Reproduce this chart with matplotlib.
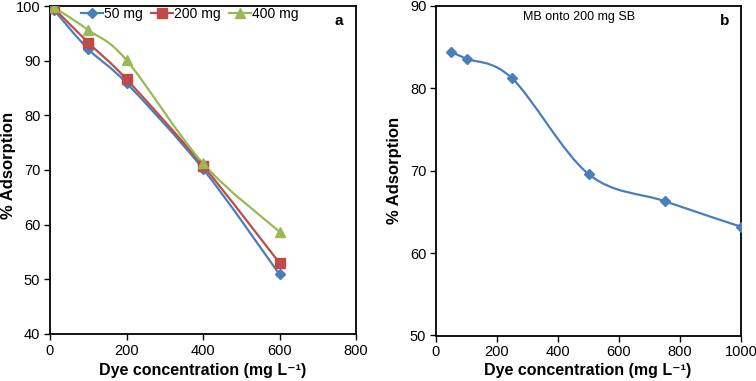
import matplotlib
matplotlib.use("Agg")
import matplotlib.pyplot as plt
from matplotlib.path import Path
from matplotlib.patches import PathPatch
import numpy as np

plt.rcParams['font.family'] = ['Liberation Sans', 'DejaVu Sans']

# Panel a data
conc_a = [10, 100, 200, 400, 600]
ads_50 = [99.3, 92.1, 85.9, 70.2, 50.9]
ads_200 = [99.6, 93.3, 86.6, 70.8, 53.0]
ads_400 = [99.8, 95.6, 90.1, 71.2, 58.7]
labels_a = ["50 mg", "200 mg", "400 mg"]

# Panel b data
conc_b = [50, 100, 250, 500, 750, 1000]
ads_b = [84.4, 83.6, 81.2, 69.6, 66.3, 63.2]

blue = '#4A7EBB'
red = '#BE4B48'
green = '#98B954'


def smooth_path(ax, x, y, color, lw=1.6):
    """Excel-style smoothed line using cubic Bezier segments through data points."""
    pts = np.column_stack([x, y]).astype(float)
    n = len(pts)
    verts = [tuple(pts[0])]
    codes = [Path.MOVETO]
    for i in range(n - 1):
        p0 = pts[i - 1] if i > 0 else pts[i]
        p1 = pts[i]
        p2 = pts[i + 1]
        p3 = pts[i + 2] if i + 2 < n else pts[i + 1]
        c1 = p1 + (p2 - p0) / 6.0
        c2 = p2 - (p3 - p1) / 6.0
        verts += [tuple(c1), tuple(c2), tuple(p2)]
        codes += [Path.CURVE4] * 3
    patch = PathPatch(Path(verts, codes), facecolor='none', edgecolor=color,
                      lw=lw, transform=ax.transData, zorder=2)
    ax.add_patch(patch)


W, H = 756, 381
fig = plt.figure(figsize=(W/100, H/100), dpi=100)
ax1 = fig.add_axes([50/W, 1-334/H, 306/W, 328/H])
ax2 = fig.add_axes([436/W, 1-335.5/H, 305/W, 329.5/H])

series = [(ads_50, blue, 'D', 5), (ads_200, red, 's', 6.5), (ads_400, green, '^', 7)]
handles = []
for (vals, c, m, ms), lab in zip(series, labels_a):
    smooth_path(ax1, conc_a, vals, c)
    ax1.plot(conc_a, vals, linestyle='none', marker=m, color=c, ms=ms, zorder=3)
    h, = ax1.plot([], [], color=c, marker=m, ms=ms, lw=1.6, label=lab)
    handles.append(h)

ax1.set_xlim(0, 800)
ax1.set_ylim(40, 100)
ax1.set_xticks(range(0, 801, 200))
ax1.set_yticks(range(40, 101, 10))
leg = ax1.legend(handles=handles, loc='upper center', bbox_to_anchor=(0.457, 1.035), ncol=3,
                 frameon=False, fontsize=10, handlelength=1.6, handletextpad=0.05,
                 columnspacing=0.6)
ax1.text(0.945, 0.955, 'a', transform=ax1.transAxes, fontsize=11, fontweight='bold',
         ha='center', va='center')

smooth_path(ax2, conc_b, ads_b, blue)
ax2.plot(conc_b, ads_b, linestyle='none', marker='D', color=blue, ms=5, zorder=3)
ax2.set_xlim(0, 1000)
ax2.set_ylim(50, 90)
ax2.set_xticks(range(0, 1001, 200))
ax2.set_yticks(range(50, 91, 10))
ax2.text(0.47, 0.967, 'MB onto 200 mg SB', transform=ax2.transAxes, fontsize=9,
         ha='center', va='center')
ax2.text(0.947, 0.955, 'b', transform=ax2.transAxes, fontsize=11, fontweight='bold',
         ha='center', va='center')

for ax in (ax1, ax2):
    for s in ax.spines.values():
        s.set_linewidth(1.3)
        s.set_color('black')
    ax.tick_params(direction='out', length=4, width=1, labelsize=10.5, pad=3)

xlab = 'Dye concentration (mg L\u207b\u00b9)'
fig.text(203/W, 1-370/H, xlab, fontsize=11.5, fontweight='bold', ha='center', va='center')
fig.text(588/W, 1-370/H, xlab, fontsize=11.5, fontweight='bold', ha='center', va='center')
fig.text(9/W, 1-165/H, '% Adsorption', fontsize=12, fontweight='bold', ha='center',
         va='center', rotation=90)
fig.text(395/W, 1-170/H, '% Adsorption', fontsize=12, fontweight='bold', ha='center',
         va='center', rotation=90)

fig.savefig('out.png', dpi=100)
